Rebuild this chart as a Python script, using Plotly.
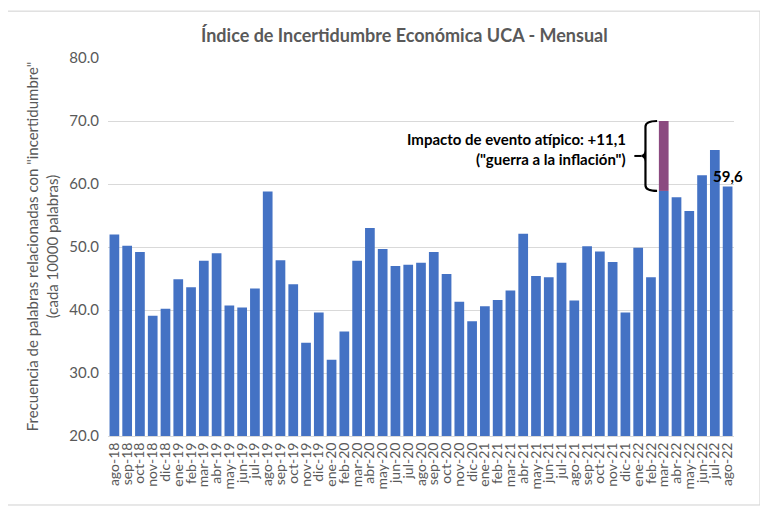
import plotly.graph_objects as go

# monthly index, ago-18 .. ago-22
months = ["ago-18", "sep-18", "oct-18", "nov-18", "dic-18",
          "ene-19", "feb-19", "mar-19", "abr-19", "may-19", "jun-19", "jul-19", "ago-19",
          "sep-19", "oct-19", "nov-19", "dic-19",
          "ene-20", "feb-20", "mar-20", "abr-20", "may-20", "jun-20", "jul-20", "ago-20",
          "sep-20", "oct-20", "nov-20", "dic-20",
          "ene-21", "feb-21", "mar-21", "abr-21", "may-21", "jun-21", "jul-21", "ago-21",
          "sep-21", "oct-21", "nov-21", "dic-21",
          "ene-22", "feb-22", "mar-22", "abr-22", "may-22", "jun-22", "jul-22", "ago-22"]

index_values = [52.0, 50.2, 49.2, 39.1, 40.2,
                44.9, 43.6, 47.8, 49.0, 40.7, 40.4, 43.4, 58.8,
                47.9, 44.1, 34.8, 39.6,
                32.1, 36.6, 47.8, 53.0, 49.7, 47.0, 47.2, 47.5,
                49.2, 45.7, 41.3, 38.2,
                40.6, 41.6, 43.1, 52.1, 45.4, 45.2, 47.5, 41.5,
                50.1, 49.3, 47.6, 39.6,
                49.9, 45.2, 58.9, 57.9, 55.7, 61.4, 65.4, 59.6]

# extra for the atypical event (only mar-22)
event_month = "mar-22"
event_extra = 11.1

y_ticks = [20, 30, 40, 50, 60, 70, 80]

BLUE = "#4472C4"
PURPLE = "#8B4A80"
GRAY = "#595959"
FONT = "Lato"

x = list(range(len(months)))
ev = months.index(event_month)
extra = [event_extra if i == ev else 0 for i in x]

fig = go.Figure()
fig.add_trace(go.Bar(x=x, y=index_values, marker_color=BLUE, marker_line_width=0,
                     showlegend=False))
fig.add_trace(go.Bar(x=x, y=extra, base=index_values, marker_color=PURPLE,
                     marker_line_width=0, showlegend=False))

# curly brace next to the atypical bar
yb = index_values[ev]
yt = index_values[ev] + event_extra
ym = (yb + yt) / 2
xv = ev - 1.43
xh = ev - 0.52
xt = ev - 1.75
c = 0.9
brace = (f"M {xh},{yt} Q {xv},{yt} {xv},{yt - c} "
         f"L {xv},{ym - c} Q {xv},{ym} {xt},{ym} "
         f"Q {xv},{ym} {xv},{ym + c} "
         f"L {xv},{yb + c} Q {xv},{yb} {xh},{yb}")
fig.add_shape(type="path", path=brace, xref="x", yref="y",
              line=dict(color="black", width=2.2))
fig.add_shape(type="line", xref="x", yref="y", x0=ev - 2.3, x1=xt, y0=ym, y1=ym,
              line=dict(color="black", width=2))

# outer frame
fig.add_shape(type="rect", xref="paper", yref="paper",
              x0=-0.163, x1=1.0415, y0=-0.1825, y1=1.124,
              line=dict(color="#d0d0d0", width=1))

fig.add_annotation(text="<b>Índice de Incertidumbre Económica UCA - Mensual</b>",
                   xref="paper", yref="paper", x=0.473, y=1.061, showarrow=False,
                   font=dict(family=FONT, size=18, color=GRAY),
                   xanchor="center", yanchor="middle")
fig.add_annotation(text="<b>Impacto de evento atípico: +11,1</b>",
                   xref="paper", yref="paper", x=0.831, y=0.786, showarrow=False,
                   xanchor="right", yanchor="middle",
                   font=dict(family=FONT, size=15, color="black"))
fig.add_annotation(text="<b>(\"guerra a la inflación\")</b>",
                   xref="paper", yref="paper", x=0.831, y=0.733, showarrow=False,
                   xanchor="right", yanchor="middle",
                   font=dict(family=FONT, size=15, color="black"))
fig.add_annotation(text="<b>59,6</b>", x=x[-1], y=index_values[-1], yanchor="bottom",
                   showarrow=False, font=dict(family=FONT, size=15, color="black"))

fig.add_annotation(text='Frecuencia de palabras relacionadas con "incertidumbre"'
                        "<br>(cada 10000 palabras)",
                   xref="paper", yref="paper", x=-0.105, y=0.5, textangle=-90,
                   xanchor="center", yanchor="middle",
                   showarrow=False, font=dict(family=FONT, size=15, color=GRAY))

# page body has an 8px margin, so the figure is drawn 8px smaller
fig.update_layout(
    width=760, height=507,
    barmode="overlay", bargap=0.24,
    plot_bgcolor="white", paper_bgcolor="white",
    margin=dict(l=100, r=34, t=50, b=79),
    font=dict(family=FONT, color=GRAY),
)
fig.update_xaxes(tickmode="array", tickvals=x, ticktext=months, tickangle=-90,
                 range=[-0.5, len(months) - 0.5], showgrid=False,
                 tickfont=dict(size=14, color=GRAY), showline=True,
                 linecolor="#d9d9d9", ticks="")
fig.update_yaxes(range=[20, 80], tickvals=y_ticks, tickformat=".1f",
                 gridcolor="#d9d9d9", zeroline=False,
                 tickfont=dict(size=15, color=GRAY), ticklabelstandoff=8)

fig.write_html("out.html")
